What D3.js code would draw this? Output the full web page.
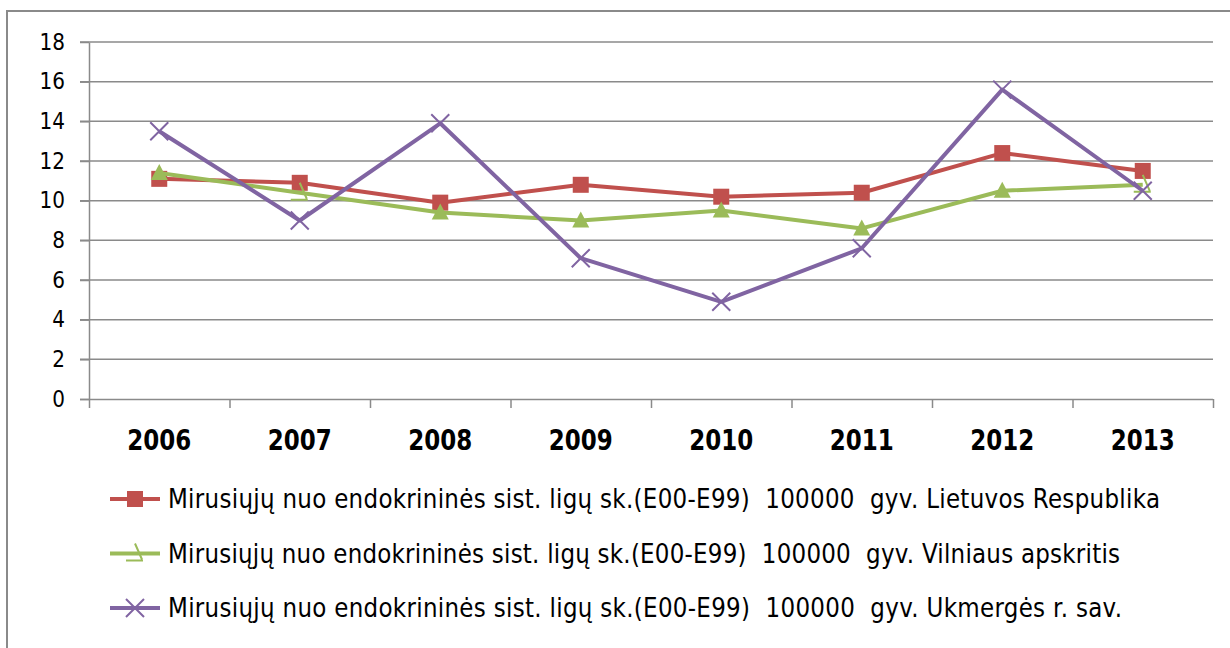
<!DOCTYPE html>
<html>
<head>
<meta charset="utf-8">
<script src="https://cdn.jsdelivr.net/npm/d3@7"></script>
<style>
  body { margin: 0; background: #fff; }
  svg { display: block; }
</style>
</head>
<body>
<script>
const years = ["2006", "2007", "2008", "2009", "2010", "2011", "2012", "2013"];
const respublika = [11.1, 10.9, 9.9, 10.8, 10.2, 10.4, 12.4, 11.5];
const vilnius = [11.4, 10.4, 9.4, 9.0, 9.5, 8.6, 10.5, 10.8];
const ukmerge = [13.5, 9.0, 13.9, 7.1, 4.9, 7.6, 15.6, 10.5];
const yTicks = [0, 2, 4, 6, 8, 10, 12, 14, 16, 18];
const legendLabels = [
  "Mirusiųjų nuo endokrininės sist. ligų sk.(E00-E99)  100000  gyv. Lietuvos Respublika",
  "Mirusiųjų nuo endokrininės sist. ligų sk.(E00-E99)  100000  gyv. Vilniaus apskritis",
  "Mirusiųjų nuo endokrininės sist. ligų sk.(E00-E99)  100000  gyv. Ukmergės r. sav."
];

const width = 1230;
const height = 648;
const plotLeft = 89;
const plotRight = 1213;
const plotTop = 42;
const plotBottom = 399;
const gridColor = "#8a8a8a";
const textStretch = "scale(1,1.13)";

const series = [
  { values: respublika, color: "#C0504D", marker: "square" },
  { values: vilnius, color: "#9BBB59", marker: "triangle" },
  { values: ukmerge, color: "#8064A2", marker: "cross" }
];

const svg = d3
  .select("body")
  .append("svg")
  .attr("width", width)
  .attr("height", height);

// outer chart border (left and top edges visible)
svg
  .append("path")
  .attr("d", `M7,${height} V11 H${width}`)
  .attr("fill", "none")
  .attr("stroke", gridColor)
  .attr("stroke-width", 2);

const xScale = d3.scaleBand().domain(years).range([plotLeft, plotRight]).padding(0);
const yScale = d3.scaleLinear().domain([0, 18]).range([plotBottom, plotTop]);

// horizontal gridlines
svg
  .append("g")
  .selectAll("line")
  .data(yTicks.filter((d) => d > 0))
  .enter()
  .append("line")
  .attr("x1", plotLeft - 9)
  .attr("x2", plotRight)
  .attr("y1", (d) => yScale(d))
  .attr("y2", (d) => yScale(d))
  .attr("stroke", gridColor)
  .attr("stroke-width", 1.5);

// y axis
const yAxis = svg
  .append("g")
  .attr("transform", `translate(${plotLeft},0)`)
  .call(d3.axisLeft(yScale).tickValues(yTicks).tickSize(9).tickPadding(15).tickSizeOuter(0));
yAxis.select(".domain").attr("stroke", gridColor).attr("stroke-width", 1.5);
yAxis.selectAll(".tick line").attr("stroke", gridColor).attr("stroke-width", 1.5);
yAxis
  .selectAll(".tick text")
  .attr("font-family", "DejaVu Sans, Verdana, sans-serif")
  .attr("font-size", 20)
  .attr("fill", "#000")
  .attr("transform", textStretch);

// x axis line and boundary ticks
const boundary = d3.scaleLinear().domain([0, years.length]).range([plotLeft, plotRight]);
const xAxis = svg
  .append("g")
  .attr("transform", `translate(0,${plotBottom})`)
  .call(
    d3.axisBottom(boundary)
      .tickValues(d3.range(years.length + 1))
      .tickSize(9)
      .tickSizeOuter(0)
      .tickFormat("")
  );
xAxis.select(".domain").attr("d", `M${plotLeft - 9},0.5H${plotRight}`).attr("stroke", gridColor).attr("stroke-width", 1.5);
xAxis.selectAll(".tick line").attr("stroke", gridColor).attr("stroke-width", 1.5);

// year labels
svg
  .append("g")
  .selectAll("text")
  .data(years)
  .enter()
  .append("text")
  .attr("transform", (d) => `translate(${xScale(d) + xScale.bandwidth() / 2},450) scale(1,1.2)`)
  .attr("text-anchor", "middle")
  .attr("font-family", "DejaVu Sans, Verdana, sans-serif")
  .attr("font-weight", "bold")
  .attr("font-size", 23)
  .text((d) => d);

const cx = (i) => xScale(years[i]) + xScale.bandwidth() / 2;

const drawMarker = (g, type, color, x, y, odd) => {
  if (type === "square") {
    g.append("rect")
      .attr("x", x - 8)
      .attr("y", y - 8)
      .attr("width", 16)
      .attr("height", 16)
      .attr("fill", color);
  } else if (type === "triangle") {
    if (odd) {
      g.append("path")
        .attr("d", `M${x},${y - 10} L${x + 7},${y + 6} M${x - 9},${y + 7} H${x + 8}`)
        .attr("fill", "none")
        .attr("stroke", color)
        .attr("stroke-width", 2);
    } else {
      g.append("path")
        .attr("d", `M${x},${y - 9} L${x + 8.5},${y + 7} L${x - 8.5},${y + 7} Z`)
        .attr("fill", color);
    }
  } else {
    g.append("path")
      .attr("d", `M${x - 9},${y - 9} L${x + 9},${y + 9} M${x - 9},${y + 9} L${x + 9},${y - 9}`)
      .attr("fill", "none")
      .attr("stroke", color)
      .attr("stroke-width", 2);
  }
};

const line = d3
  .line()
  .x((d, i) => cx(i))
  .y((d) => yScale(d));

series.forEach((s) => {
  const g = svg.append("g");
  g.append("path")
    .datum(s.values)
    .attr("d", line)
    .attr("fill", "none")
    .attr("stroke", s.color)
    .attr("stroke-width", 4)
    .attr("stroke-linejoin", "round");
  s.values.forEach((v, i) => {
    // the Vilnius series shows a broken glyph at the 2007 and 2013 points
    const odd = s.marker === "triangle" && (i === 1 || i === years.length - 1);
    drawMarker(g, s.marker, s.color, cx(i), yScale(v), odd);
  });
});

// legend
const legendY = [499, 553.5, 608];
const legendWidths = [992, 952, 954];
const legend = svg.append("g");
series.forEach((s, i) => {
  const y = legendY[i];
  legend
    .append("line")
    .attr("x1", 110)
    .attr("x2", 160)
    .attr("y1", y)
    .attr("y2", y)
    .attr("stroke", s.color)
    .attr("stroke-width", 4);
  drawMarker(legend, s.marker, s.color, 135, y, s.marker === "triangle");
  legend
    .append("text")
    .attr("transform", `translate(168,${y + 9}) ${textStretch}`)
    .attr("font-family", "DejaVu Sans, sans-serif")
    .attr("font-size", 23)
    .attr("textLength", legendWidths[i])
    .attr("lengthAdjust", "spacing")
    .style("white-space", "pre")
    .attr("fill", "#000")
    .text(legendLabels[i]);
});
</script>
</body>
</html>
